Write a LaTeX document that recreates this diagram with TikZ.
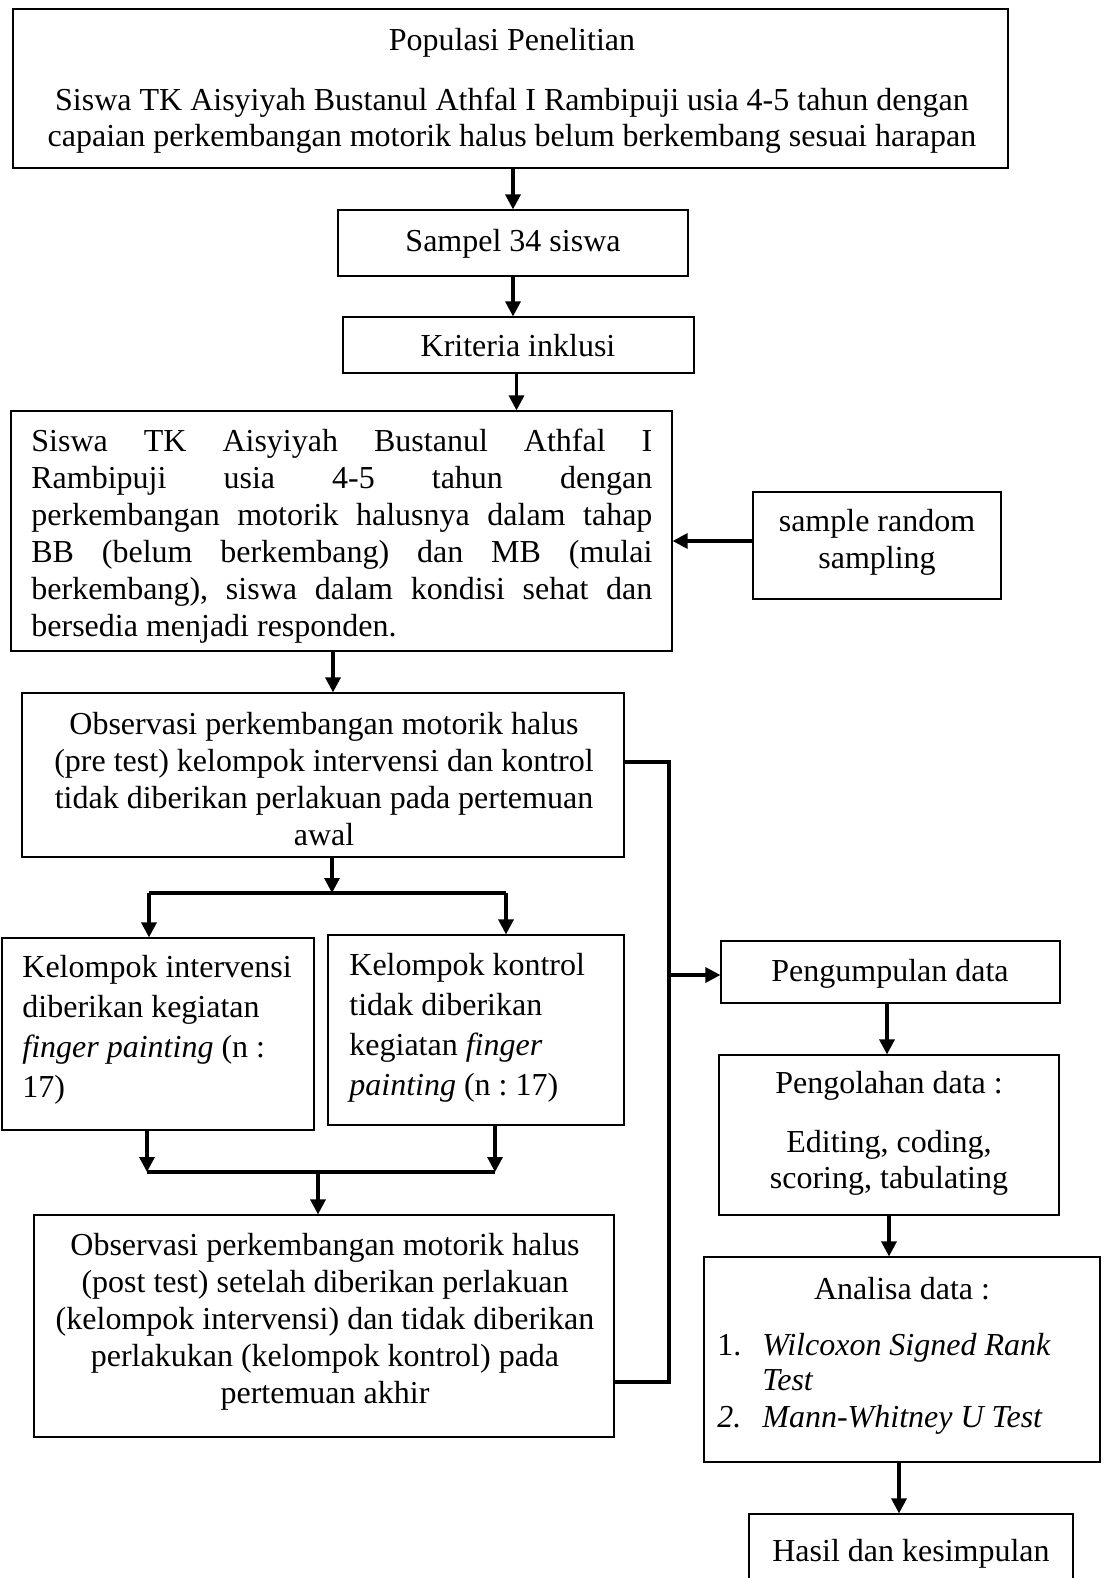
\documentclass[tikz,border=0pt]{standalone}
\usepackage{fontspec}
\setmainfont{Liberation Serif}
\frenchspacing
\usetikzlibrary{arrows.meta,fit,calc}
\tikzset{
  box/.style={draw, line width=0.6pt, inner sep=0pt},
  txt/.style={inner sep=0pt, font=\fontsize{16pt}{18.5pt}\selectfont},
  ctxt/.style={txt, anchor=base},
  ltxt/.style={txt, anchor=base west},
  arr/.style={line width=1.6pt, -{Triangle[length=7.5pt,width=7.5pt]}},
  link/.style={line width=1.6pt},
}
\newcommand\bx[5]{\node[box, fit={(#2,#3) (#4,#5)}] (#1) {};}
\newcommand\jline[1]{\hbox to 310.5pt{#1}}
\begin{document}
\begin{tikzpicture}[x=0.5pt,y=-0.5pt]
\useasboundingbox (0,0) rectangle (1106,1578);
\clip (0,0) rectangle (1106,1578);
% boxes
\bx{pop}{13}{9}{1008}{168}
\bx{samp}{338}{210}{688}{276}
\bx{krit}{343}{317}{694}{373}
\bx{siswa}{11}{411}{672}{651}
\bx{rand}{753}{492}{1001}{599}
\bx{pre}{22}{693}{624}{857}
\bx{ki}{2}{938}{314}{1130}
\bx{kk}{328}{935}{624}{1125}
\bx{post}{34}{1215}{614}{1437}
\bx{pengum}{721}{941}{1060}{1003}
\bx{pengol}{719}{1055}{1059}{1215}
\bx{anal}{704}{1257}{1100}{1462}
\bx{hasil}{749}{1514}{1073}{1600}
% texts: populasi
\node[ctxt] (tpop1) at (512,51) {Populasi Penelitian};
\node[ctxt] (tpop2) at (512,111) {Siswa TK Aisyiyah Bustanul Athfal I Rambipuji usia 4-5 tahun dengan};
\node[ctxt] (tpop3) at (512,147) {capaian perkembangan motorik halus belum berkembang sesuai harapan};
\node[ctxt] (tsamp) at (513,251) {Sampel 34 siswa};
\node[ctxt] (tkrit) at (518,356) {Kriteria inklusi};
% siswa (justified)
\node[ltxt] (ts1) at (31,451) {\jline{Siswa\hfil TK\hfil Aisyiyah\hfil Bustanul\hfil Athfal\hfil I}};
\node[ltxt] (ts2) at (31,488) {\jline{Rambipuji\hfil usia\hfil 4-5\hfil tahun\hfil dengan}};
\node[ltxt] (ts3) at (31,525) {\jline{perkembangan\hfil motorik\hfil halusnya\hfil dalam\hfil tahap}};
\node[ltxt] (ts4) at (31,562) {\jline{BB\hfil (belum\hfil berkembang)\hfil dan\hfil MB\hfil (mulai}};
\node[ltxt] (ts5) at (31,599) {\jline{berkembang),\hfil siswa\hfil dalam\hfil kondisi\hfil sehat\hfil dan}};
\node[ltxt] (ts6) at (31,636) {bersedia menjadi responden.};
% sample random
\node[ctxt] (tr1) at (877,531) {sample random};
\node[ctxt] (tr2) at (877,568) {sampling};
% pre test
\node[ctxt] (tp1) at (324,734) {Observasi perkembangan motorik halus};
\node[ctxt] (tp2) at (324,771) {(pre test) kelompok intervensi dan kontrol};
\node[ctxt] (tp3) at (324,808) {tidak diberikan perlakuan pada pertemuan};
\node[ctxt] (tp4) at (324,845) {awal};
% kelompok intervensi
\node[ltxt] (ti1) at (22,977) {Kelompok intervensi};
\node[ltxt] (ti2) at (22,1017) {diberikan kegiatan};
\node[ltxt] (ti3) at (22,1057) {\textit{finger painting} (n :};
\node[ltxt] (ti4) at (22,1097) {17)};
% kelompok kontrol
\node[ltxt] (tk1) at (349,975) {Kelompok kontrol};
\node[ltxt] (tk2) at (349,1015) {tidak diberikan};
\node[ltxt] (tk3) at (349,1055) {kegiatan \textit{finger}};
\node[ltxt] (tk4) at (349,1095) {\textit{painting} (n : 17)};
% post test
\node[ctxt] (tq1) at (325,1255) {Observasi perkembangan motorik halus};
\node[ctxt] (tq2) at (325,1292) {(post test) setelah diberikan perlakuan};
\node[ctxt] (tq3) at (325,1329) {(kelompok intervensi) dan tidak diberikan};
\node[ctxt] (tq4) at (325,1366) {perlakukan (kelompok kontrol) pada};
\node[ctxt] (tq5) at (325,1403) {pertemuan akhir};
% right column
\node[ctxt] (tpengum) at (890,981) {Pengumpulan data};
\node[ctxt] (tpengol1) at (889,1093) {Pengolahan data :};
\node[ctxt] (tpengol2) at (889,1152) {Editing, coding,};
\node[ctxt] (tpengol3) at (889,1188) {scoring, tabulating};
\node[ctxt] (tanal) at (902,1299) {Analisa data :};
\node[ltxt] (n1) at (717,1355) {1.};
\node[ltxt] (w1) at (762,1355) {\textit{Wilcoxon Signed Rank}};
\node[ltxt] (w2) at (762,1390) {\textit{Test}};
\node[ltxt] (n2) at (717,1427) {\textit{2.}};
\node[ltxt] (w3) at (762,1427) {\textit{Mann-Whitney U Test}};
\node[ctxt] (thasil) at (911,1561) {Hasil dan kesimpulan};
% junction coordinates
\coordinate (brL) at (149,893);
\coordinate (brR) at (506,893);
\coordinate (brC) at (332,893);
\coordinate (mgL) at (147,1172);
\coordinate (mgR) at (495,1172);
\coordinate (mgC) at (318,1172);
\coordinate (busT) at (669,762);
\coordinate (busM) at (669,975);
\coordinate (busB) at (669,1382);
% connectors
\draw[arr] (pop.south -| samp.north) -- (samp.north);
\draw[arr] (samp.south) -- (samp.south |- krit.north);
\draw[arr] ([xshift=-1pt]krit.south) -- ([xshift=-1pt]krit.south |- siswa.north);
\draw[arr] (rand.west |- 0,541) -- (siswa.east |- 0,541);
\draw[arr] ([xshift=-4.25pt]siswa.south) -- ([xshift=-4.25pt]siswa.south |- pre.north);
\draw[arr] (pre.south -| brC) -- (brC);
\draw[link] (brL) -- (brR);
\draw[arr] (brL) -- (brL |- ki.north);
\draw[arr] (brR) -- (brR |- kk.north);
\draw[arr] (ki.south -| mgL) -- (mgL);
\draw[arr] (kk.south -| mgR) -- (mgR);
\draw[link] (mgL) -- (mgR);
\draw[arr] (mgC) -- (mgC |- post.north);
\draw[link] (busT -| pre.east) -- (busT) -- (busB) -- (busB -| post.east);
\draw[arr] (busM) -- (busM -| pengum.west);
\draw[arr] ([xshift=-1.75pt]pengum.south) -- ([xshift=-1.75pt]pengum.south |- pengol.north);
\draw[arr] (pengol.south) -- (pengol.south |- anal.north);
\draw[arr] ([xshift=-1.5pt]anal.south) -- ([xshift=-1.5pt]anal.south |- hasil.north);
\end{tikzpicture}
\end{document}
